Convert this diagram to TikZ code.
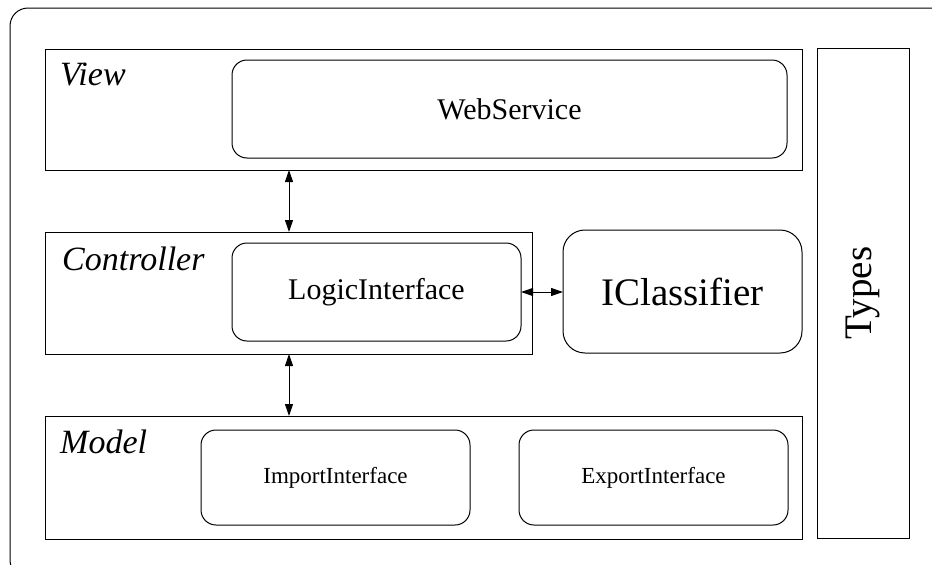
\documentclass[tikz,border=0pt]{standalone}
\usepackage{fontspec}
\setmainfont{Liberation Serif}
\usetikzlibrary{arrows.meta}
\begin{document}
\begin{tikzpicture}[x=1pt,y=-1pt,
  layerbox/.style={draw, line width=1pt, rectangle, inner sep=0pt, outer sep=0pt, anchor=north west},
  compbox/.style={draw, line width=1pt, rounded corners=15pt, inner sep=0pt, outer sep=0pt,
    anchor=north west, font=\fontsize{30}{36}\selectfont},
  smallcomp/.style={compbox, font=\fontsize{23}{28}\selectfont},
  tag/.style={anchor=base west, inner sep=0pt, font=\itshape\fontsize{34}{40}\selectfont},
  link/.style={line width=1pt, {Triangle[length=12pt,width=8pt]}-{Triangle[length=12pt,width=8pt]}}]

\useasboundingbox (0,0) rectangle (932,565);

% outer frame, running past the right and bottom edges
\begin{scope}
  \clip (0,0) rectangle (932,565);
  \draw[line width=1pt, rounded corners=18pt] (10,8) rectangle (952,578);
\end{scope}

% layers
\node[layerbox, minimum width=757pt, minimum height=121pt] (view) at (45,49) {};
\node[layerbox, minimum width=487pt, minimum height=122pt] (ctrl) at (45,232) {};
\node[layerbox, minimum width=757pt, minimum height=123pt] (model) at (45,416) {};
\node[layerbox, minimum width=92pt, minimum height=490pt] (types) at (817,48) {};

% layer titles
\node[tag] (viewtag) at (60,85) {View};
\node[tag] (ctrltag) at (62,270) {Controller};
\node[tag] (modeltag) at (60,453) {Model};
\node[rotate=90, inner sep=0pt, font=\fontsize{39}{46}\selectfont] (typestag) at (types.center) {Types};

% components
\node[compbox, minimum width=555pt, minimum height=98pt] (web) at (232,60) {WebService};
\node[compbox, minimum width=289pt, minimum height=98pt] (logic) at (232,243) {LogicInterface};
\node[compbox, rounded corners=22pt, minimum width=239pt, minimum height=123pt,
  font=\fontsize{39}{46}\selectfont] (icl) at (563,230) {IClassifier};
\node[smallcomp, minimum width=269pt, minimum height=95pt] (imp) at (201,430) {ImportInterface};
\node[smallcomp, minimum width=269pt, minimum height=95pt] (exp) at (519,430) {ExportInterface};

% connectors
\coordinate (axis) at (289,0);
\draw[link] (axis |- view.south) -- (axis |- ctrl.north);
\draw[link] (axis |- ctrl.south) -- (axis |- model.north);
\draw[link] (logic.east) -- (icl.west |- logic.east);
\end{tikzpicture}
\end{document}
